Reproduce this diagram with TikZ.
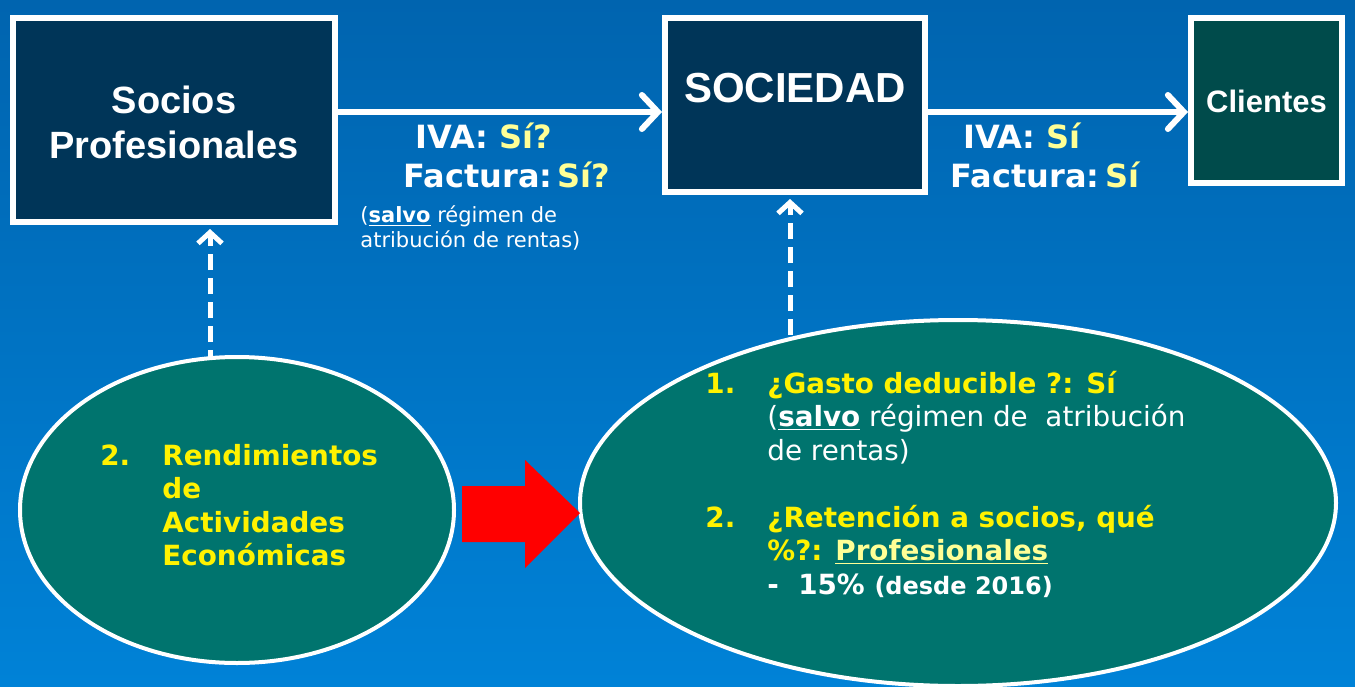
\documentclass[tikz,border=0pt]{standalone}
\usepackage{fontspec}
\setmainfont{DejaVu Sans}
\newfontfamily\boxfont{Liberation Sans}
\usetikzlibrary{arrows.meta,positioning,shapes.geometric}
\definecolor{bgtop}{RGB}{0,100,175}
\definecolor{bgbottom}{RGB}{0,130,215}
\definecolor{navybox}{RGB}{0,53,88}
\definecolor{tealbox}{RGB}{0,75,75}
\definecolor{ellteal}{RGB}{0,116,110}
\definecolor{paleyellow}{RGB}{255,255,150}
\pgfdeclarelayer{back}
\pgfsetlayers{back,main}

\begin{document}
\begin{tikzpicture}[x=0.5pt,y=-0.5pt,
  boxnode/.style={draw=white,line width=3pt,inner sep=0pt},
  boxtext/.style={text=white,font=\boxfont\bfseries,align=center},
  ellnode/.style={ellipse,draw=white,line width=2pt,fill=ellteal,inner sep=0pt},
  flow/.style={white,line width=3pt,-{Straight Barb[length=8pt,width=17pt,line cap=round]}},
  dashflow/.style={white,line width=2.5pt,dash pattern=on 8pt off 4pt,
                   -{Straight Barb[length=5.5pt,width=12pt]}},
  lbl/.style={text=white,font=\bfseries\fontsize{16}{19.5}\selectfont},
  small/.style={text=white,font=\fontsize{10.5}{12.5}\selectfont,inner sep=0pt},
  listtext/.style={text=yellow,font=\bfseries\fontsize{13.9}{16.75}\selectfont,inner sep=0pt}]
\useasboundingbox (0,0) rectangle (1355,686);
\begin{pgfonlayer}{back}
\shade[top color=bgtop,bottom color=bgbottom] (0,0) rectangle (1355,686);
\end{pgfonlayer}

% top row
\node[boxnode,fill=navybox,minimum width=161pt,minimum height=102pt] (socios) at (174,120) {};
\node[boxtext,font=\boxfont\bfseries\fontsize{19}{22.5}\selectfont] (sociostxt) at (174,122) {Socios\\Profesionales};
\node[boxnode,fill=navybox,minimum width=130pt,minimum height=87pt] (sociedad) at (795,105) {};
\node[boxtext,font=\boxfont\bfseries\fontsize{21}{25}\selectfont] (sociedadtxt) at (795,88) {SOCIEDAD};
\node[boxnode,fill=tealbox,minimum width=75.5pt,minimum height=82.5pt] (clientes) at (1266.5,100.5) {};
\node[boxtext,font=\boxfont\bfseries\fontsize{15.5}{18}\selectfont] (clientestxt) at (1266.5,101) {Clientes};

\draw[flow] (socios.east |- 0,112) -- (sociedad.west |- 0,112);
\draw[flow] (sociedad.east |- 0,112) -- (clientes.west |- 0,112);

\node[lbl,anchor=base] (iva1) at (484,148) {IVA: \textcolor{paleyellow}{Sí?}};
\node[lbl,anchor=base] (fact1) at (507,187) {Factura:\,\textcolor{paleyellow}{Sí?}};
\node[small,anchor=base west] (salvo1) at (360,222)
  {\begin{tabular}[t]{@{}l@{}}(\textbf{\underline{salvo}} régimen de\\atribución de rentas)\end{tabular}};
\node[lbl,anchor=base] (iva2) at (1022,148) {IVA: \textcolor{paleyellow}{Sí}};
\node[lbl,anchor=base] (fact2) at (1045,187) {Factura:\,\textcolor{paleyellow}{Sí}};

% bottom row
\node[ellnode,minimum width=217pt,minimum height=153pt] (rend) at (237,510) {};
\node[ellnode,minimum width=378pt,minimum height=183pt] (gasto) at (958,503) {};

\begin{pgfonlayer}{back}
\draw[dashflow,shorten >=2pt] (rend.center -| 210,0) -- (socios.south -| 210,0);
\draw[dashflow,shorten >=2pt] (gasto.center -| 790,0) -- (sociedad.south -| 790,0);
\end{pgfonlayer}

\fill[red] (462,486) -- (525,486) -- (525,460) -- (580,513) -- (525,568) -- (525,542) -- (462,542) -- cycle;

\node[listtext,anchor=base west] (rendtxt) at (100,465)
  {\begin{tabular}[t]{@{}p{31pt}@{}l@{}}
   2. & Rendimientos\\ & de\\ & Actividades\\ & Económicas
   \end{tabular}};
\node[listtext,anchor=base west] (gastotxt) at (705,393)
  {\begin{tabular}[t]{@{}p{31pt}@{}l@{}}
   1. & ¿Gasto deducible ?: Sí\\
      & \color{white}\mdseries(\textbf{\underline{salvo}} régimen de\ \ atribución\\
      & \color{white}\mdseries de rentas)\\[16.75pt]
   2. & ¿Retención a socios, qué\\
      & \%?: \textcolor{paleyellow}{\underline{Profesionales}}\\
      & \color{white}-\ \ 15\% {\fontsize{12}{13}\selectfont(desde 2016)}
   \end{tabular}};
\end{tikzpicture}
\end{document}
